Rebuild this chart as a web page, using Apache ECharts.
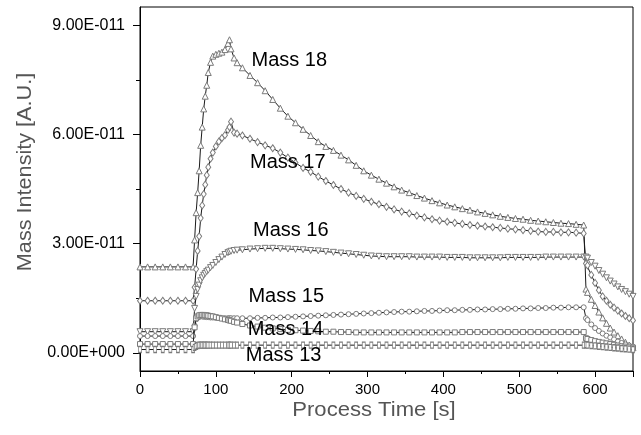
<!DOCTYPE html>
<html>
<head>
<meta charset="utf-8">
<script src="https://cdn.jsdelivr.net/npm/echarts@6/dist/echarts.min.js"></script>
<style>
html,body{margin:0;padding:0;background:#fff;}
#chart{width:641px;height:435px;}
</style>
</head>
<body>
<div id="chart"></div>
<script>
// Process time [s]
const timeS = [0,10,20,30,40,50,60,70,72,74,76,78,80,82,84,86,88,90,93,96,100,104,108,112,116,118,120,124,128,135,145,155,165,175,185,195,205,215,225,235,245,255,265,275,285,295,305,315,325,335,345,355,365,375,385,395,405,415,425,435,445,455,465,475,485,495,505,515,525,535,545,555,565,575,585,588,590,595,600,605,610,615,620,625,630,635,640,645,650];

// Mass intensities in units of 1E-011 A.U.
const mass18 = [2.36,2.36,2.36,2.36,2.36,2.36,2.36,2.36,
3.1,3.85,4.4,5.0,5.7,6.2,6.7,7.05,7.35,7.7,
7.98,8.15,8.2,8.23,8.26,8.33,8.5,8.6,8.35,8.1,7.97,
7.83,7.62,7.42,7.2,6.96,6.72,6.5,6.32,6.14,5.97,
5.8,5.67,5.56,5.43,5.3,5.15,5.0,4.88,4.77,4.66,
4.56,4.47,4.4,4.32,4.25,4.18,4.12,4.06,4.01,3.96,
3.92,3.87,3.83,3.79,3.75,3.72,3.69,3.67,3.64,3.62,
3.6,3.58,3.56,3.55,3.53,3.51,
1.75,1.66,1.47,1.3,1.12,0.96,0.81,0.68,0.57,0.47,0.38,0.29,0.21,0.14];

const mass17 = [1.43,1.43,1.43,1.43,1.43,1.43,1.43,1.43,
1.8,2.3,2.8,3.2,3.7,4.05,4.36,4.62,4.88,5.1,
5.33,5.5,5.67,5.8,5.9,5.98,6.12,6.2,6.35,6.05,6.02,
5.97,5.88,5.79,5.7,5.62,5.5,5.36,5.22,5.08,4.97,
4.84,4.72,4.61,4.5,4.4,4.31,4.23,4.15,4.08,4.01,
3.94,3.88,3.83,3.77,3.72,3.67,3.63,3.6,3.57,3.54,
3.51,3.49,3.47,3.45,3.43,3.41,3.39,3.37,3.35,3.33,
3.32,3.32,3.31,3.31,3.3,3.28,
2.45,2.4,2.14,1.92,1.72,1.55,1.43,1.32,1.24,1.16,1.08,1.01,0.95,0.89];

const mass16 = [0.58,0.58,0.58,0.58,0.58,0.58,0.58,0.58,
1.22,1.55,1.74,1.86,1.98,2.06,2.13,2.18,2.23,2.27,
2.34,2.4,2.48,2.56,2.63,2.7,2.75,2.77,2.79,2.81,2.82,
2.83,2.85,2.86,2.87,2.87,2.86,2.85,2.84,2.83,2.81,
2.8,2.78,2.76,2.74,2.72,2.7,2.68,2.66,2.65,2.64,
2.64,2.64,2.64,2.63,2.63,2.63,2.63,2.62,2.62,2.62,
2.61,2.61,2.61,2.61,2.61,2.62,2.62,2.62,2.62,2.62,
2.63,2.63,2.63,2.63,2.63,2.63,
2.63,2.6,2.48,2.38,2.26,2.16,2.06,1.97,1.89,1.81,1.74,1.68,1.61,1.55];

const mass15 = [0.46,0.46,0.46,0.46,0.46,0.46,0.46,0.46,
0.75,0.92,0.97,0.99,1.0,1.0,0.99,0.99,0.98,0.98,
0.97,0.97,0.96,0.96,0.95,0.95,0.95,0.95,0.95,0.95,0.95,
0.95,0.95,0.96,0.96,0.97,0.97,0.98,0.99,1.0,1.01,
1.02,1.03,1.04,1.05,1.06,1.07,1.08,1.09,1.1,1.11,
1.12,1.13,1.13,1.14,1.15,1.15,1.16,1.17,1.17,1.18,
1.18,1.19,1.19,1.2,1.2,1.21,1.21,1.22,1.22,1.23,
1.23,1.24,1.24,1.25,1.25,1.25,
0.95,0.9,0.78,0.68,0.6,0.53,0.47,0.42,0.37,0.31,0.27,0.23,0.2,0.17];

const mass14 = [0.24,0.24,0.24,0.24,0.24,0.24,0.24,0.24,
0.7,0.95,1.0,1.03,1.04,1.04,1.04,1.03,1.03,1.02,
1.01,1.0,0.98,0.96,0.94,0.92,0.9,0.89,0.88,0.85,0.83,
0.79,0.75,0.72,0.69,0.67,0.65,0.63,0.62,0.61,0.6,
0.59,0.58,0.58,0.57,0.57,0.56,0.56,0.56,0.56,0.56,
0.56,0.56,0.56,0.56,0.56,0.56,0.56,0.56,0.56,0.57,
0.57,0.57,0.57,0.57,0.57,0.57,0.57,0.57,0.57,0.57,
0.57,0.57,0.57,0.57,0.57,0.57,
0.4,0.38,0.35,0.32,0.3,0.28,0.26,0.24,0.22,0.2,0.18,0.17,0.15,0.14];

const mass13 = [0.09,0.09,0.09,0.09,0.09,0.09,0.09,0.09,
0.15,0.18,0.2,0.21,0.21,0.21,0.21,0.21,0.21,0.21,
0.21,0.21,0.21,0.21,0.21,0.21,0.21,0.21,0.21,0.21,0.21,
0.21,0.21,0.21,0.21,0.21,0.21,0.21,0.21,0.21,0.21,
0.21,0.21,0.21,0.21,0.21,0.21,0.21,0.21,0.21,0.21,
0.21,0.21,0.21,0.21,0.21,0.21,0.21,0.21,0.21,0.21,
0.21,0.21,0.21,0.21,0.21,0.21,0.21,0.21,0.21,0.21,
0.21,0.21,0.21,0.21,0.21,0.21,
0.22,0.21,0.2,0.19,0.18,0.17,0.16,0.15,0.14,0.13,0.12,0.11,0.1,0.09];

const seriesNames = ['Mass 18','Mass 17','Mass 16','Mass 15','Mass 14','Mass 13'];
const seriesValues = [mass18, mass17, mass16, mass15, mass14, mass13];

// Y tick labels (units of 1E-011)
const yMajorTicks = [0, 3, 6, 9];
const yMinorTicks = [1.5, 4.5, 7.5];

// Annotation anchors (data coords)
const labelTexts = ['Mass 18','Mass 17','Mass 16','Mass 15','Mass 14','Mass 13'];
const labelTime = [147, 145, 149, 143, 142, 139.5];
const labelValue = [8.04, 5.24, 3.37, 1.56, 0.64, -0.08];

const FONT = '"Liberation Sans", Arial, sans-serif';

function fmtE(v) {
  const s = (v * 1e-11).toExponential(2);
  const parts = s.split('e');
  const n = parseInt(parts[1], 10);
  return parts[0] + 'E' + (n < 0 ? '-' : '+') + String(Math.abs(n)).padStart(3, '0');
}

const symbolDefs = [
  {symbol: 'triangle', size: 6, rotate: 0},
  {symbol: 'diamond', size: [5, 7], rotate: 0},
  {symbol: 'triangle', size: 6, rotate: 180},
  {symbol: 'circle', size: 5, rotate: 0},
  {symbol: 'rect', size: 5, rotate: 0},
  {symbol: 'rect', size: [3, 6], rotate: 0}
];

const chart = echarts.init(document.getElementById('chart'), null, {renderer: 'canvas'});

const series = seriesNames.map(function (name, k) {
  const vals = seriesValues[k];
  return {
    name: name,
    type: 'line',
    data: timeS.map(function (t, i) { return [t, vals[i]]; }),
    symbol: symbolDefs[k].symbol,
    symbolSize: symbolDefs[k].size,
    symbolRotate: symbolDefs[k].rotate,
    showSymbol: true,
    lineStyle: {color: '#1a1a1a', width: 1},
    itemStyle: {color: '#ffffff', borderColor: '#7a7a7a', borderWidth: 1},
    emphasis: {disabled: true},
    animation: false,
    z: 2 + k
  };
});

chart.setOption({
  animation: false,
  backgroundColor: '#fff',
  grid: {left: 140, right: 8, top: 7, bottom: 64, show: true, borderColor: '#000', borderWidth: 1, backgroundColor: 'transparent'},
  xAxis: {
    type: 'value', min: 0, max: 650, interval: 100,
    axisLine: {show: true, onZero: false, lineStyle: {color: '#000', width: 1}},
    axisTick: {show: true, inside: false, length: 6, lineStyle: {color: '#000'}},
    minorTick: {show: true, splitNumber: 2, length: 3, lineStyle: {color: '#000'}},
    splitLine: {show: false},
    axisLabel: {
      margin: 11, fontSize: 15, fontFamily: FONT, color: '#000',
      formatter: function (v) { return v > 600 ? '' : String(v); }
    }
  },
  yAxis: [{
    type: 'value', min: -0.5, max: 9.5, position: 'left',
    axisLine: {show: true, onZero: false, lineStyle: {color: '#000', width: 1}},
    axisTick: {show: true, inside: false, length: 7, customValues: yMajorTicks, lineStyle: {color: '#000'}},
    splitLine: {show: false},
    axisLabel: {
      customValues: yMajorTicks, margin: 15, fontSize: 16, fontFamily: FONT, color: '#000',
      formatter: fmtE
    }
  }, {
    type: 'value', min: -0.5, max: 9.5, position: 'left', offset: 0,
    axisLine: {show: false},
    axisTick: {show: true, inside: false, length: 4, customValues: yMinorTicks, lineStyle: {color: '#000'}},
    splitLine: {show: false},
    axisLabel: {show: false}
  }],
  series: series
});

const graphics = labelTexts.map(function (txt, i) {
  const p = chart.convertToPixel({gridIndex: 0}, [labelTime[i], labelValue[i]]);
  return {
    type: 'text', x: p[0], y: p[1], z: 100,
    style: {text: txt, font: '20px ' + FONT, fill: '#000', textAlign: 'left', textVerticalAlign: 'middle'}
  };
});
graphics.push({
  type: 'text', x: 25, y: 172, rotation: Math.PI / 2, scaleX: 1.03, z: 100,
  style: {text: 'Mass Intensity [A.U.]', font: '21px ' + FONT, fill: '#555', textAlign: 'center', textVerticalAlign: 'middle'}
});
graphics.push({
  type: 'text', x: 374, y: 410, scaleX: 1.05, z: 100,
  style: {text: 'Process Time [s]', font: '21px ' + FONT, fill: '#555', textAlign: 'center', textVerticalAlign: 'middle'}
});
chart.setOption({graphic: graphics});
</script>
</body>
</html>
